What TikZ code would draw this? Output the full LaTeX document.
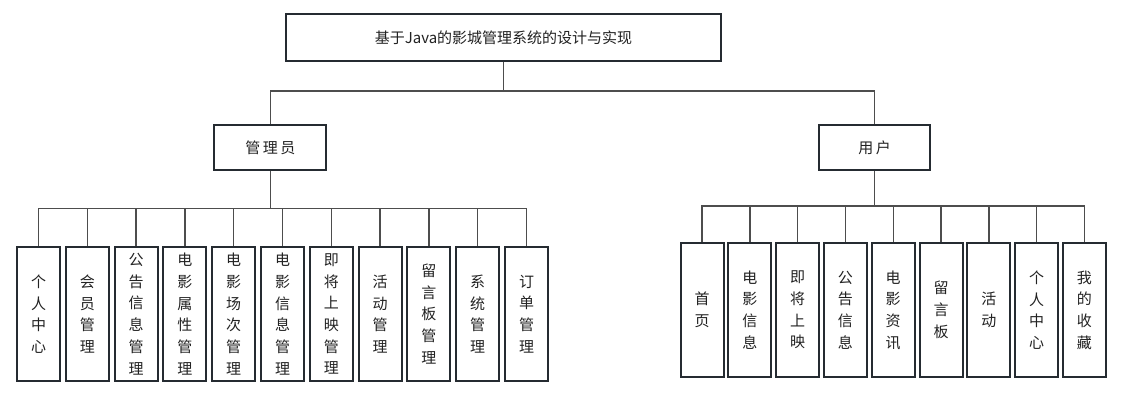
\documentclass[tikz,border=0pt]{standalone}
\usepackage{fontspec}
\setmainfont{Noto Sans CJK SC}
\definecolor{boxc}{HTML}{252B31}
\definecolor{linec}{HTML}{4D4D4D}
\definecolor{txtc}{HTML}{222222}
\begin{document}
\begin{tikzpicture}[x=1pt,y=-1pt,
  box/.style={draw=boxc, line width=2pt, fill=white, inner sep=0pt, align=center, text=txtc,
              font=\fontsize{15}{21.7}\selectfont},
  conn/.style={draw=linec, line width=1.4pt}]
\useasboundingbox (0,0) rectangle (1147,400);
\coordinate (bus0) at (0,91);
\coordinate (busA) at (0,208.5);
\coordinate (busU) at (0,206);
\node[box, minimum width=435pt, minimum height=47pt] (root) at (503.5,37.5) {基于Java的影城管理系统的设计与实现};
\node[box, minimum width=112pt, minimum height=45pt] (admin) at (270.3,147.7) {管\,理\,员};
\node[box, minimum width=111pt, minimum height=45pt] (user) at (874.5,147.5) {用\,户};
\draw[conn] (root.south) -- (root.south |- bus0) -| (admin.north);
\draw[conn] (root.south) -- (root.south |- bus0) -| (user.north);
\foreach \t [count=\i from 0] in {{个\\人\\中\\心},{会\\员\\管\\理},{公\\告\\信\\息\\管\\理},{电\\影\\属\\性\\管\\理},{电\\影\\场\\次\\管\\理},{电\\影\\信\\息\\管\\理},{即\\将\\上\\映\\管\\理},{活\\动\\管\\理},{留\\言\\板\\管\\理},{系\\统\\管\\理},{订\\单\\管\\理}} {
  \node[box, minimum width=43pt, minimum height=134pt] (a\i) at ({38.5+48.8*\i},314) {\t};
  \draw[conn] (admin.south) -- (admin.south |- busA) -| (a\i.north);
}
\foreach \t [count=\i from 0] in {{首\\页},{电\\影\\信\\息},{即\\将\\上\\映},{公\\告\\信\\息},{电\\影\\资\\讯},{留\\言\\板},{活\\动},{个\\人\\中\\心},{我\\的\\收\\藏}} {
  \node[box, minimum width=43pt, minimum height=134pt] (u\i) at ({702+47.8*\i},310) {\t};
  \draw[conn] (user.south) -- (user.south |- busU) -| (u\i.north);
}
\end{tikzpicture}
\end{document}
